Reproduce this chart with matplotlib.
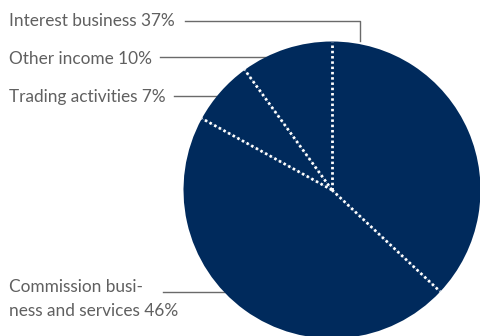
import numpy as np
import matplotlib
matplotlib.use("Agg")
import matplotlib.pyplot as plt

categories = ["Interest business", "Commission business and services",
              "Trading activities", "Other income"]
shares = [37, 46, 7, 10]
labels = ["Interest business 37%", "Commission busi-\nness and services 46%",
          "Trading activities 7%", "Other income 10%"]

W, H = 481, 336
fig = plt.figure(figsize=(W / 100, H / 100), dpi=100)
ax = fig.add_axes([0, 0, 1, 1])

navy = "#002a5c"
cx, cy, r = 332, H - 190, 148.5

wedges, _ = ax.pie(shares, startangle=90, counterclock=False,
                   colors=[navy] * len(shares), center=(cx, cy), radius=r,
                   wedgeprops=dict(linewidth=0), frame=True)
ax.set_xlim(0, W)
ax.set_ylim(0, H)
ax.set_aspect("equal")
ax.axis("off")

# dotted white separators along the wedge boundaries
for w in wedges:
    ang = np.deg2rad(w.theta1)
    ax.plot([cx, cx + r * np.cos(ang)], [cy, cy + r * np.sin(ang)],
            color="white", lw=2.0, ls=(0, (0.9, 1.0)), zorder=5)

txt_kw = dict(fontsize=12.4, color="#606060", family="Lato", weight="normal",
              va="center", ha="left")
line_kw = dict(color="#6a6a6a", lw=1.0, zorder=0)

# Interest business
ax.text(9, H - 21, labels[0], **txt_kw)
ax.plot([185, 360, 360], [H - 21, H - 21, H - 41], **line_kw)
# Other income
ax.text(9, H - 59, labels[3], **txt_kw)
ax.plot([160, 290], [H - 57, H - 57], **line_kw)
# Trading activities
ax.text(9, H - 97, labels[2], **txt_kw)
ax.plot([174, 230], [H - 96, H - 96], **line_kw)
# Commission business and services
ax.text(9, H - 299, labels[1], linespacing=1.55, **txt_kw)
ax.plot([163, 230], [H - 292, H - 292], **line_kw)

fig.savefig("out.png", dpi=100, facecolor="white")
